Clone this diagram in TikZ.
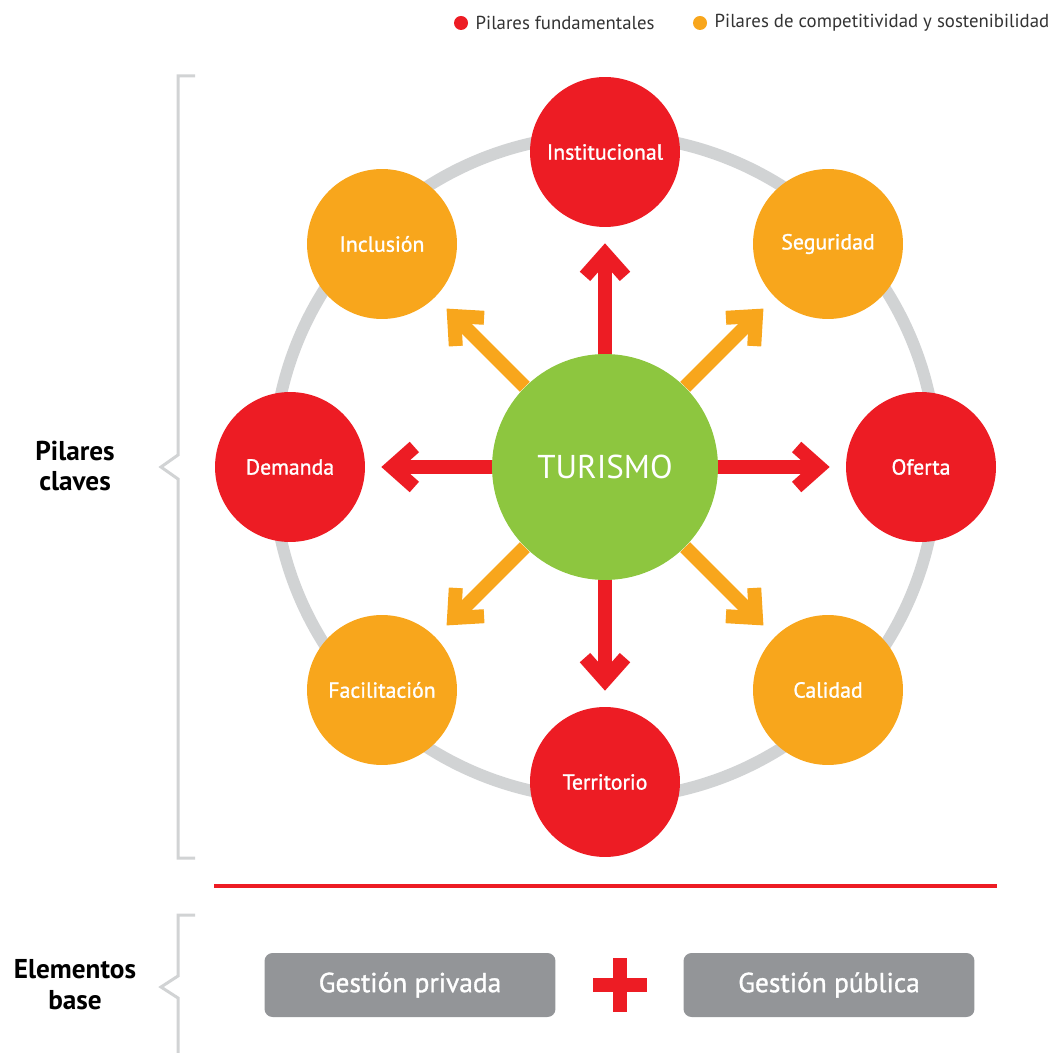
\documentclass[tikz,border=0pt]{standalone}
\usepackage{fontspec}
\setmainfont{PT Sans}
\newfontfamily\medfont{PT Sans}[FakeBold=1.2]
\usepackage{tikz}
\usetikzlibrary{arrows.meta,positioning}
\definecolor{pilarred}{RGB}{237,28,36}
\definecolor{pilarorange}{RGB}{248,166,28}
\definecolor{turgreen}{RGB}{141,198,63}
\definecolor{ringgray}{RGB}{209,211,212}
\definecolor{boxgray}{RGB}{147,149,152}

\begin{document}
\begin{tikzpicture}[x=0.02cm, y=-0.02cm,
    hub/.style={circle, fill=turgreen, minimum size=4.52cm, inner sep=0pt,
                text=white, font=\fontsize{18.8}{20}\selectfont},
    fund/.style={circle, fill=pilarred, minimum size=3cm, inner sep=0pt,
                 text=white, font=\medfont\fontsize{12.4}{14}\selectfont},
    comp/.style={fund, fill=pilarorange},
    spoke/.style={line width=0.28cm, shorten >=0.32cm,
                  -{Straight Barb[length=0.45cm, width=0.8cm, line width=0.28cm]}},
    bracket/.style={draw=ringgray, line width=0.06cm},
    sidelabel/.style={align=center, font=\bfseries\fontsize{15.5}{17.6}\selectfont},
    gestion/.style={rounded corners=0.16cm, fill=boxgray, minimum width=5.82cm,
                    minimum height=1.28cm, text=white, font=\medfont\fontsize{15.6}{17}\selectfont},
    legdot/.style={circle, minimum size=0.28cm, inner sep=0pt},
    legend/.style={font=\fontsize{10.7}{12}\selectfont, inner sep=0pt, text=black!80}
  ]
    \useasboundingbox (0,0) rectangle (1054,1053);

    % legend
    \node[legdot, fill=pilarred] (d1) at (461,23) {};
    \node[legend, right=0.14cm of d1] (l1) {Pilares fundamentales};
    \node[legdot, fill=pilarorange] (d2) at (700,23) {};
    \node[legend, right=0.14cm of d2] (l2) {Pilares de competitividad y sostenibilidad};

    % ring behind the pillars
    \draw[ringgray, line width=0.24cm] (605,467) circle[radius=6.64cm];

    \node[hub] (tur) at (605,467) {TURISMO};
    \node[fund] (inst) at (605,152) {Institucional};
    \node[fund] (dem) at (290,467) {Demanda};
    \node[fund] (ofe) at (921,467) {Oferta};
    \node[fund] (ter) at (605,782) {Territorio};
    \node[comp] (inc) at (382,244) {Inclusión};
    \node[comp] (seg) at (828,244) {Seguridad};
    \node[comp] (fac) at (382,690) {Facilitación};
    \node[comp] (cal) at (828,690) {Calidad};

    \foreach \p in {inst,dem,ofe,ter}
      \draw[spoke, pilarred] (tur) -- (\p);
    \foreach \p in {inc,seg,fac,cal}
      \draw[spoke, pilarorange] (tur) -- (\p);

    % brackets
    \draw[bracket] (195,76) -- (178,76) -- (178,455) -- (161,467) -- (178,479)
      -- (178,858) -- (195,858);
    \draw[bracket] (195,915) -- (178,915) -- (178,976) -- (161,987) -- (178,998)
      -- (178,1053);
    \node[sidelabel] (pil) at (75,466) {Pilares\\claves};
    \node[sidelabel] (ele) at (75,985) {Elementos\\base};

    \draw[pilarred, line width=0.08cm] (214,886) -- (997,886);

    \node[gestion] (priv) at (410,985) {Gestión privada};
    \node[gestion] (pub) at (829,985) {Gestión pública};
    \fill[pilarred] (613,958) rectangle (627,1012);
    \fill[pilarred] (593,978) rectangle (647,992);
  \end{tikzpicture}
\end{document}
